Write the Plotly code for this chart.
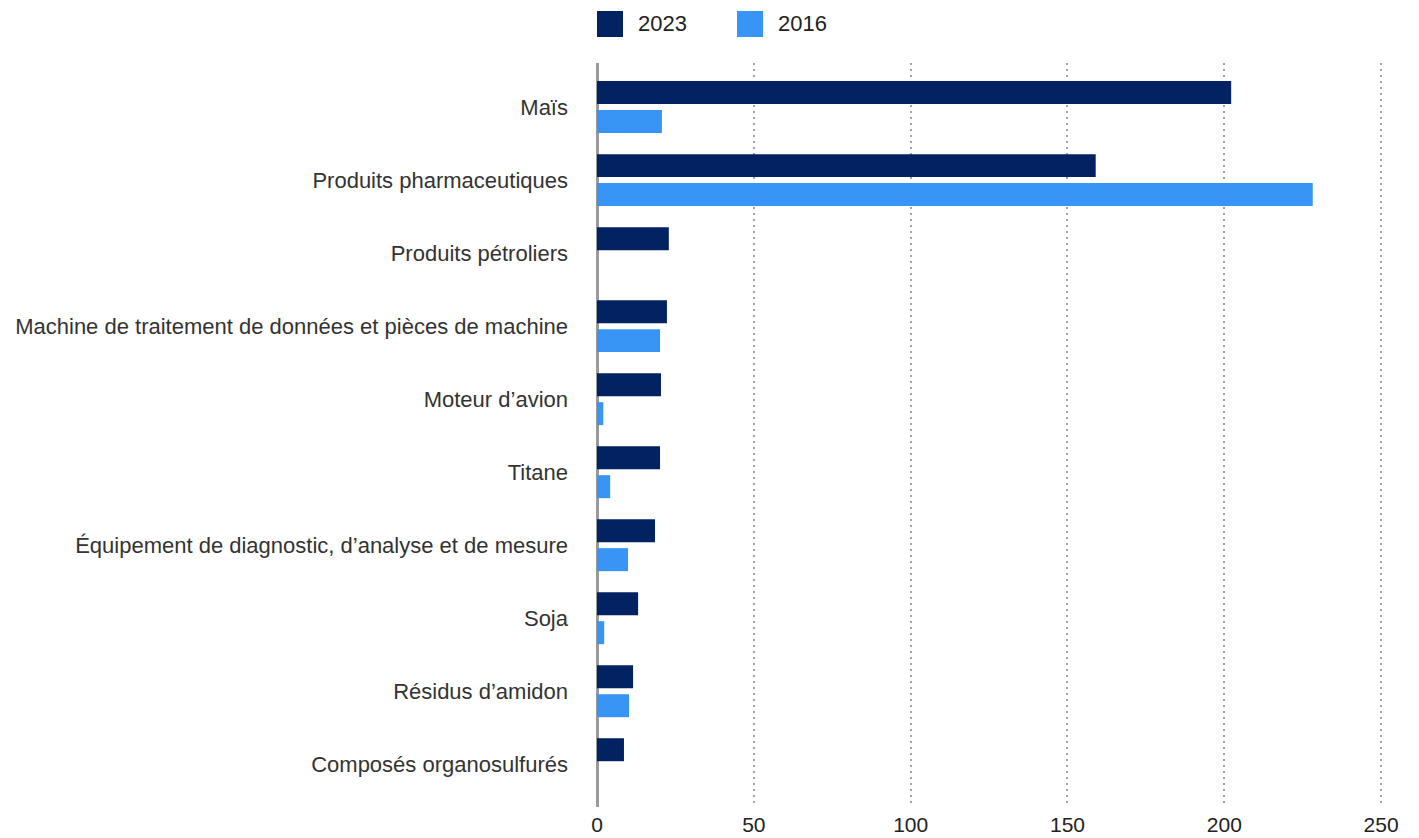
import plotly.graph_objects as go

# Product categories, top to bottom
categories = [
    "Maïs",
    "Produits pharmaceutiques",
    "Produits pétroliers",
    "Machine de traitement de données et pièces de machine",
    "Moteur d’avion",
    "Titane",
    "Équipement de diagnostic, d’analyse et de mesure",
    "Soja",
    "Résidus d’amidon",
    "Composés organosulfurés",
]
values_2023 = [202.2, 159.0, 22.9, 22.3, 20.4, 20.1, 18.5, 13.1, 11.5, 8.6]
values_2016 = [20.7, 228.2, None, 20.1, 2.0, 4.2, 9.9, 2.3, 10.2, None]

series_names = ["2023", "2016"]
series_colors = ["#022262", "#3995f5"]
x_ticks = [0, 50, 100, 150, 200, 250]

W, H = 1419, 838
M_L, M_R, M_T, M_B = 597, 36, 63, 31
FONT = "Liberation Sans, Arial, sans-serif"
TEXT = "#333333"

fig = go.Figure()
for name, vals, col in zip(series_names, [values_2023, values_2016], series_colors):
    fig.add_trace(go.Bar(
        y=categories, x=vals, name=name, orientation="h",
        marker=dict(color=col, line=dict(width=0)),
        showlegend=False,
    ))

plot_w = W - M_L - M_R
plot_h = H - M_T - M_B

# Legend drawn as large swatches with labels above the plot
legend_items = [(597, 636), (737, 776)]
for (sx, tx), name, col in zip(legend_items, series_names, series_colors):
    fig.add_shape(
        type="rect", xref="paper", yref="paper",
        x0=(sx - M_L) / plot_w, x1=(sx + 26 - M_L) / plot_w,
        y0=1 + (M_T - 37) / plot_h, y1=1 + (M_T - 11) / plot_h,
        fillcolor=col, line=dict(width=0),
    )
    fig.add_annotation(
        xref="paper", yref="paper",
        x=(tx - M_L) / plot_w, y=1 + (M_T - 24) / plot_h,
        text=name, showarrow=False, xanchor="left", yanchor="middle",
        font=dict(family=FONT, size=22, color="#222222"),
    )

fig.update_layout(
    width=W, height=H,
    margin=dict(l=M_L, r=M_R, t=M_T, b=M_B, pad=0),
    paper_bgcolor="white", plot_bgcolor="white",
    barmode="group", bargap=0.206, bargroupgap=0.207,
    font=dict(family=FONT, size=22, color=TEXT),
    xaxis=dict(
        range=[0, 250.6], tickvals=x_ticks, ticktext=[str(t) for t in x_ticks],
        showgrid=True, gridcolor="#a3a3a3", gridwidth=2, griddash="2px,4px",
        zeroline=True, zerolinecolor="#9a9a9a", zerolinewidth=3,
        showline=False, ticks="", ticklabelstandoff=3, automargin=False,
        tickfont=dict(family=FONT, size=21, color="#222222"),
        fixedrange=True,
    ),
    yaxis=dict(
        range=[9.586, -0.604], showgrid=False, zeroline=False, showline=False,
        ticks="", ticklabelstandoff=28, automargin=False,
        tickfont=dict(family=FONT, size=22, color=TEXT),
        fixedrange=True,
    ),
)

fig.write_html("out.html")
